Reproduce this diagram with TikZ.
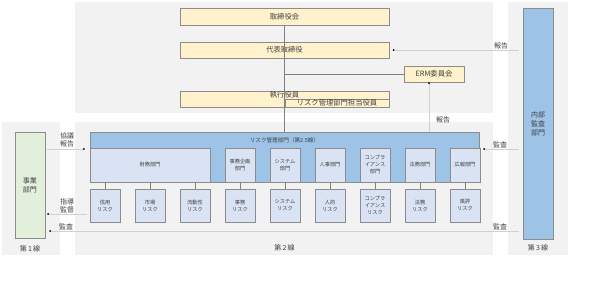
\documentclass[tikz,border=0pt]{standalone}
\usepackage{fontspec}
\setmainfont{Noto Sans CJK JP}
\usetikzlibrary{arrows.meta}
\definecolor{panelbg}{HTML}{F2F2F2}
\definecolor{ylw}{HTML}{FFF2CC}
\definecolor{blu}{HTML}{9DC3E6}
\definecolor{lav}{HTML}{DAE3F3}
\definecolor{grn}{HTML}{E2EFDA}
\definecolor{bord}{HTML}{8C8C8C}
\definecolor{txt}{HTML}{404040}
\definecolor{lline}{HTML}{D0D0D0}
\definecolor{dline}{HTML}{808080}
\tikzset{
  box/.style={draw=bord, line width=0.8pt, inner sep=0pt, text=txt, align=center},
  ybox/.style={box, fill=ylw, font=\fontsize{7.3}{8}\selectfont},
  bbox/.style={box, fill=blu},
  lbox/.style={box, fill=lav, font=\fontsize{5.2}{7}\selectfont},
  gbox/.style={box, fill=grn, font=\fontsize{7}{9}\selectfont},
  lbl/.style={inner sep=0pt, text=txt, font=\fontsize{7}{8.5}\selectfont, align=center},
  trunk/.style={draw=dline, line width=0.7pt},
  feed/.style={draw=lline, line width=0.8pt, -{Circle[length=1.6pt, fill=black, black]}},
  tick/.style={draw=dline, line width=0.6pt}
}
\begin{document}
\begin{tikzpicture}[x=1pt,y=-1pt]
\useasboundingbox (0,0) rectangle (600,304);
% panels
\fill[panelbg] (75,2) rectangle (493,113);
\fill[panelbg] (75,122) rectangle (493,255);
\fill[panelbg] (2,122) rectangle (60,255);
\fill[panelbg] (508,2) rectangle (568,255);

% top boxes
\node[ybox, minimum width=209, minimum height=17] (bod) at (284.5,16.5) {取締役会};
\node[ybox, minimum width=209, minimum height=16] (ceo) at (284.5,50) {代表取締役};
\node[ybox, minimum width=209, minimum height=16] (exec) at (284.5,99) {};
\node[ybox, minimum width=104, minimum height=8] (riskexec) at (337,103) {リスク管理部門担当役員};
\node[lbl, font=\fontsize{7.3}{8}\selectfont] (execl) at (284.5,94.5) {執行役員};
\node[ybox, minimum width=60, minimum height=16] (erm) at (434,74) {ERM委員会};

% internal audit
\node[bbox, minimum width=30, minimum height=231, font=\fontsize{7}{9}\selectfont] (audit) at (538,123.5) {内部\\監査\\部門};

% business dept
\node[gbox, minimum width=30, minimum height=106] (biz) at (30,185) {事業\\部門};

% risk management dept
\node[bbox, minimum width=389, minimum height=50] (rm) at (284.5,157) {};
\node[lbl, font=\fontsize{5.6}{7}\selectfont] (rmt) at (284.5,140) {リスク管理部門（第2.5線）};

% sub departments
\node[lbox, minimum width=120, minimum height=34] (zaimu) at (150,165) {財務部門};
\node[lbox, minimum width=30, minimum height=34] (jimu) at (240,165) {事務企画\\部門};
\node[lbox, minimum width=30, minimum height=34] (sys) at (285,165) {システム\\部門};
\node[lbox, minimum width=30, minimum height=34] (jinji) at (330,165) {人事部門};
\node[lbox, minimum width=30, minimum height=34] (comp) at (375,165) {コンプラ\\イアンス\\部門};
\node[lbox, minimum width=30, minimum height=34] (houmu) at (420,165) {法務部門};
\node[lbox, minimum width=30, minimum height=34] (kouhou) at (465,165) {広報部門};

% risk boxes
\node[lbox, minimum width=30, minimum height=33] (r1) at (105,205.5) {信用\\リスク};
\node[lbox, minimum width=30, minimum height=33] (r2) at (150,205.5) {市場\\リスク};
\node[lbox, minimum width=30, minimum height=33] (r3) at (195,205.5) {流動性\\リスク};
\node[lbox, minimum width=30, minimum height=33] (r4) at (240,205.5) {事務\\リスク};
\node[lbox, minimum width=30, minimum height=33] (r5) at (285,205.5) {システム\\リスク};
\node[lbox, minimum width=30, minimum height=33] (r6) at (330,205.5) {人的\\リスク};
\node[lbox, minimum width=30, minimum height=33] (r7) at (375,205.5) {コンプラ\\イアンス\\リスク};
\node[lbox, minimum width=30, minimum height=33] (r8) at (420,205.5) {法務\\リスク};
\node[lbox, minimum width=30, minimum height=33] (r9) at (465,205.5) {風評\\リスク};

% sub-dept to risk connectors
\draw[tick] (r1.north |- zaimu.south) -- (r1.north);
\draw[tick] (r2.north |- zaimu.south) -- (r2.north);
\draw[tick] (r3.north |- zaimu.south) -- (r3.north);
\draw[tick] (jimu.south) -- (r4.north);
\draw[tick] (sys.south) -- (r5.north);
\draw[tick] (jinji.south) -- (r6.north);
\draw[tick] (comp.south) -- (r7.north);
\draw[tick] (houmu.south) -- (r8.north);
\draw[tick] (kouhou.south) -- (r9.north);

% trunk
\draw[trunk] (bod.south) -- (rm.north);
\coordinate (ermj) at (bod.south |- erm.west);
\draw[trunk] (ermj) -- (erm.west);

% reports
\coordinate (ermrep) at (429,132);
\draw[feed] (ermrep) -- (ermrep |- erm.south);
\node[lbl] (rep1) at (443,120) {報告};

\coordinate (aud1) at (519,50);
\draw[feed] (aud1) -- ([xshift=3.5pt]ceo.east);
\node[lbl] (rep2) at (501,46) {報告};

\coordinate (aud2) at (519,149);
\draw[feed] (aud2) -- ([xshift=4pt]rm.east |- aud2);
\node[lbl] (kansa1) at (500,145) {監査};

\coordinate (aud3) at (519,231);
\draw[feed] (aud3) -- ([xshift=4pt]biz.east |- aud3);
\node[lbl] (kansa2) at (500,227) {監査};
\node[lbl] (kansa3) at (66,226.5) {監査};

% business dept flows
\coordinate (biz1) at (47,149);
\draw[feed] (biz1) -- ([xshift=-5pt]rm.west |- biz1);
\node[lbl] (kyogi) at (67,140) {協議\\報告};

\coordinate (biz2) at (87,214);
\draw[feed] (biz2) -- ([xshift=2pt]biz.east |- biz2);
\node[lbl] (shido) at (67,206) {指導\\監督};

% line labels
\node[lbl] (l1) at (30,249) {第\,1\,線};
\node[lbl] (l2) at (284.5,248) {第\,2\,線};
\node[lbl] (l3) at (538,248) {第\,3\,線};
\end{tikzpicture}
\end{document}
